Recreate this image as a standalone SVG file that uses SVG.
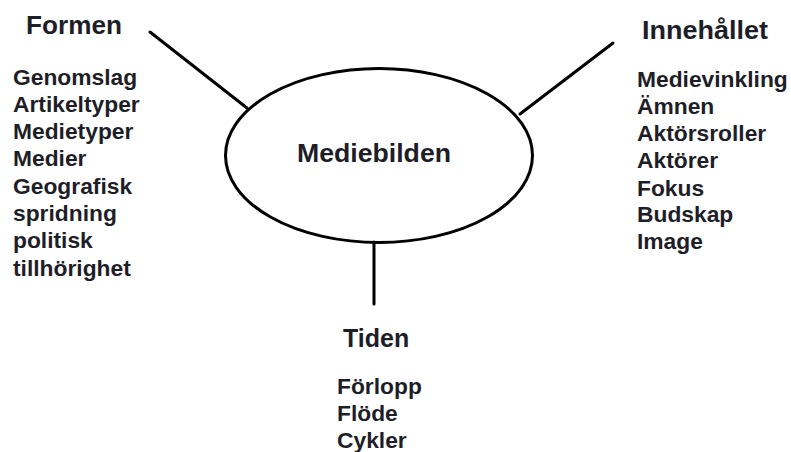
<svg xmlns="http://www.w3.org/2000/svg" width="791" height="452" viewBox="0 0 791 452">
<style>
text{font-family:"Liberation Sans",Arial,sans-serif;font-weight:bold;fill:#1e1e28}
.h{font-size:25px}
.i{font-size:22.8px}
.c{fill:none;stroke:#000;stroke-width:3;stroke-linecap:round}
</style>
<rect width="791" height="452" fill="#fff"/>
<g id="connectors">
<line class="c" x1="150" y1="32" x2="247" y2="108"/>
<line class="c" x1="613" y1="43" x2="520" y2="114"/>
<line class="c" x1="374" y1="242" x2="374" y2="304" stroke-width="3.5"/>
</g>
<g id="mediebilden">
<ellipse cx="379" cy="155.5" rx="153.5" ry="87" fill="none" stroke="#000" stroke-width="3"/>
<text x="297" y="162" font-size="26.5px" textLength="154" lengthAdjust="spacingAndGlyphs">Mediebilden</text>
</g>
<g id="formen">
<text class="h" x="26" y="34" textLength="96" lengthAdjust="spacingAndGlyphs">Formen</text>
<text class="i" x="13" y="85">Genomslag</text>
<text class="i" x="13" y="112">Artikeltyper</text>
<text class="i" x="13" y="139">Medietyper</text>
<text class="i" x="13" y="166">Medier</text>
<text class="i" x="13" y="194">Geografisk</text>
<text class="i" x="13" y="221">spridning</text>
<text class="i" x="13" y="248">politisk</text>
<text class="i" x="13" y="276">tillhörighet</text>
</g>
<g id="innehallet">
<text class="h" x="642" y="38.5" textLength="126" lengthAdjust="spacingAndGlyphs">Innehållet</text>
<text class="i" x="637" y="87">Medievinkling</text>
<text class="i" x="637" y="114">Ämnen</text>
<text class="i" x="637" y="141">Aktörsroller</text>
<text class="i" x="637" y="168">Aktörer</text>
<text class="i" x="637" y="196">Fokus</text>
<text class="i" x="637" y="222">Budskap</text>
<text class="i" x="637" y="249">Image</text>
</g>
<g id="tiden">
<text class="h" x="343" y="347">Tiden</text>
<text class="i" x="337" y="394">Förlopp</text>
<text class="i" x="337" y="421">Flöde</text>
<text class="i" x="337" y="448">Cykler</text>
</g>
</svg>
